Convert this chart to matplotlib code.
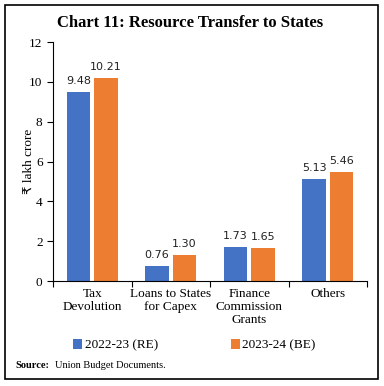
import numpy as np
import matplotlib
matplotlib.use("Agg")
import matplotlib.pyplot as plt
from matplotlib.patches import Rectangle

categories = ["Tax\nDevolution", "Loans to States\nfor Capex", "Finance\nCommission\nGrants", "Others"]
series_names = ["2022-23 (RE)", "2023-24 (BE)"]
re_2223 = [9.48, 0.76, 1.73, 5.13]
be_2324 = [10.21, 1.30, 1.65, 5.46]
colors = ["#4472C4", "#ED7D31"]

plt.rcParams['font.family'] = ['Liberation Serif', 'DejaVu Sans']

fig = plt.figure(figsize=(3.84, 3.86), dpi=100)
ax = fig.add_axes([0.138, 0.272, 0.818, 0.619])

x = np.arange(len(categories))
w = 0.30
off = 0.175
for vals, name, c, d in [(re_2223, series_names[0], colors[0], -off),
                         (be_2324, series_names[1], colors[1], off)]:
    bars = ax.bar(x + d, vals, w, color=c, label=name)
    for b, v in zip(bars, vals):
        ax.text(b.get_x() + b.get_width() / 2, v + 0.3, f"{v:.2f}",
                ha='center', va='bottom', fontsize=8, family='DejaVu Sans', color='#222222')

ax.set_xlim(-0.5, len(categories) - 0.5)
ax.set_ylim(0, 12)
ax.set_yticks(range(0, 13, 2))
ax.set_xticks(np.arange(len(categories) + 1) - 0.5)
ax.set_xticklabels([])
ax.set_xticks(x, minor=True)
ax.set_xticklabels(categories, minor=True, fontsize=9.5, linespacing=1.1)
ax.tick_params(axis='x', which='minor', length=0, pad=5)
ax.tick_params(axis='x', which='major', length=4, direction='out')
ax.tick_params(axis='y', length=4, direction='out', labelsize=9.5)
for s in ['top', 'right']:
    ax.spines[s].set_visible(False)
ax.set_ylabel("₹ lakh crore", fontsize=9.5, labelpad=-4)

ax.legend(loc='upper center', bbox_to_anchor=(0.45, -0.195), ncol=2, frameon=False,
          fontsize=9.5, handlelength=0.7, handleheight=0.7, handletextpad=0.2,
          columnspacing=5.5)

fig.text(0.495, 0.94, "Chart 11: Resource Transfer to States", ha='center', va='center',
         fontsize=12, fontweight='bold')
fig.text(0.039, 0.054, "Source:", ha='left', va='center', fontsize=7.5, fontweight='bold')
fig.text(0.143, 0.054, "Union Budget Documents.", ha='left', va='center', fontsize=7.5)

fig.patches.append(Rectangle((0.012, 0.018), 0.973, 0.97, transform=fig.transFigure,
                             fill=False, edgecolor='black', linewidth=1.2))

fig.savefig("out.png", dpi=100)
